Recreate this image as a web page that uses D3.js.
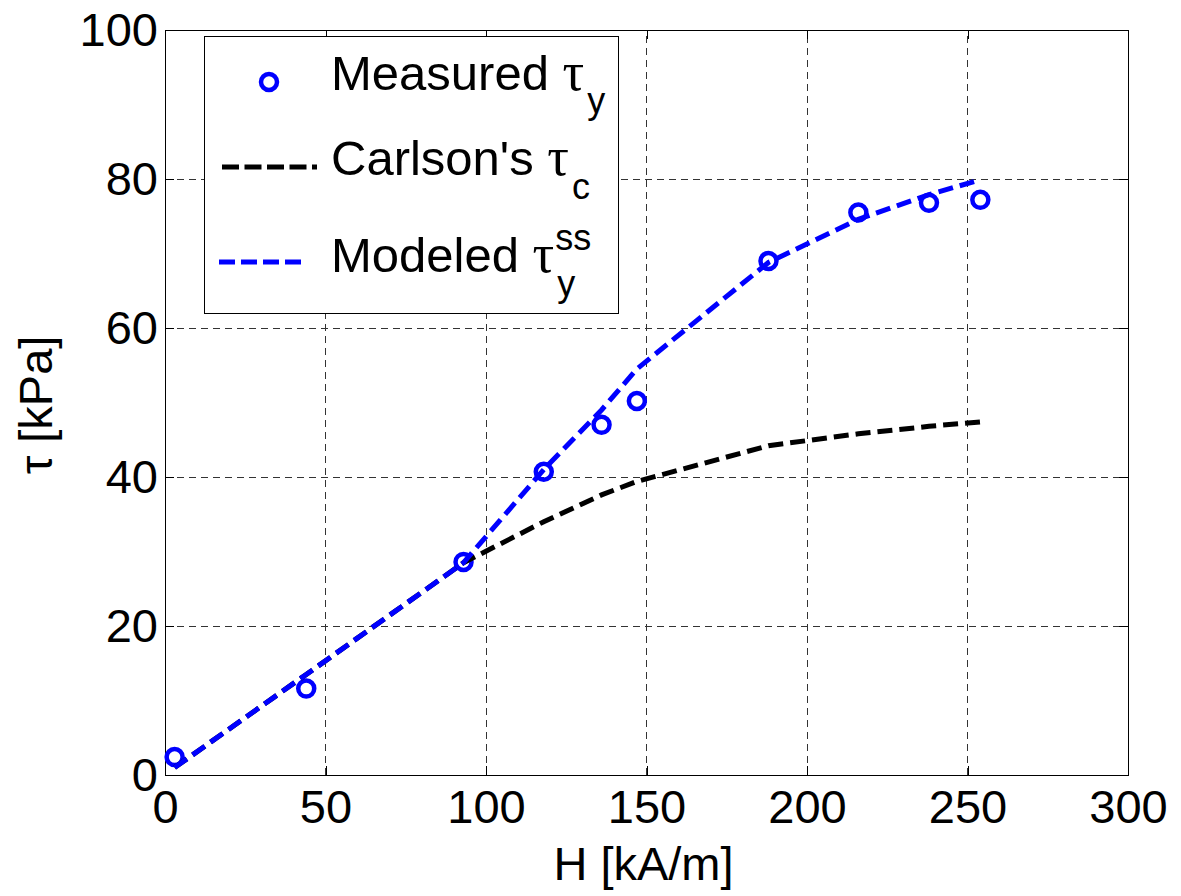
<!DOCTYPE html>
<html>
<head>
<meta charset="utf-8">
<script src="https://cdn.jsdelivr.net/npm/d3@7"></script>
<style>
  html, body { margin: 0; padding: 0; background: #fff; }
  svg { display: block; }
</style>
</head>
<body>
<svg id="chart" width="1181" height="896"></svg>
<script>
// ---- data ----
const H = [3, 44, 93, 118, 136, 147, 188, 216, 238, 254];
const measured = [2.4, 11.6, 28.6, 40.7, 47.0, 50.2, 69.0, 75.5, 76.8, 77.2];
const carlson = [1.0, 13.5, 28.5, 34.0, 37.6, 39.4, 44.2, 45.8, 46.8, 47.4];
const modeled = [1.0, 13.5, 28.5, 41.0, 49.0, 54.5, 68.8, 74.6, 77.9, 79.9];
const xTicks = [0, 50, 100, 150, 200, 250, 300];
const yTicks = [0, 20, 40, 60, 80, 100];
const legendLabels = ["Measured", "Carlson's", "Modeled"];

// ---- layout ----
const svg = d3.select("#chart");
const L = 165, R = 1128, T = 30, B = 775;
const x = d3.scaleLinear().domain([0, 300]).range([L, R]);
const y = d3.scaleLinear().domain([0, 100]).range([B, T]);
const FONT = "'Liberation Sans', Arial, Helvetica, sans-serif";
const TAU = "'Liberation Serif', 'Times New Roman', serif";
const FS = 47;

// grid
const grid = svg.append("g").attr("stroke", "#333").attr("stroke-width", 1)
  .attr("stroke-dasharray", "7,5").attr("shape-rendering", "crispEdges");
grid.selectAll("line.gx").data(xTicks.filter(d => d > 0 && d < 300)).enter().append("line")
  .attr("x1", d => x(d)).attr("x2", d => x(d)).attr("y1", B).attr("y2", T);
grid.selectAll("line.gy").data(yTicks.filter(d => d > 0 && d < 100)).enter().append("line")
  .attr("y1", d => y(d)).attr("y2", d => y(d)).attr("x1", L).attr("x2", R);

// axes (ticks inside, labels)
const tickLen = 9;
const xAxisB = d3.axisBottom(x).tickValues(xTicks).tickSizeInner(-tickLen).tickSizeOuter(0).tickPadding(15);
const xAxisT = d3.axisTop(x).tickValues(xTicks).tickSizeInner(-tickLen).tickSizeOuter(0).tickFormat("");
const yAxisL = d3.axisLeft(y).tickValues(yTicks).tickSizeInner(-tickLen).tickSizeOuter(0).tickPadding(7);
const yAxisR = d3.axisRight(y).tickValues(yTicks).tickSizeInner(-tickLen).tickSizeOuter(0).tickFormat("");

function styleAxis(g) {
  g.select(".domain").remove();
  g.selectAll("line").attr("stroke", "#000").attr("stroke-width", 1).attr("shape-rendering", "crispEdges");
  g.selectAll("text").attr("font-family", FONT).attr("font-size", FS).attr("fill", "#000");
}
svg.append("g").attr("transform", `translate(0,${B})`).call(xAxisB).call(styleAxis)
  .selectAll("text").attr("dy", "0.71em");
svg.append("g").attr("transform", `translate(0,${T})`).call(xAxisT).call(styleAxis);
svg.append("g").attr("transform", `translate(${L},0)`).call(yAxisL).call(styleAxis)
  .selectAll("text").attr("dy", "0.34em");
svg.append("g").attr("transform", `translate(${R},0)`).call(yAxisR).call(styleAxis);

// box
svg.append("rect").attr("x", L).attr("y", T).attr("width", R - L).attr("height", B - T)
  .attr("fill", "none").attr("stroke", "#000").attr("stroke-width", 1).attr("shape-rendering", "crispEdges");

// data: markers
const pts = H.map((h, i) => ({h, v: measured[i]}));
svg.append("g").selectAll("circle").data(pts).enter().append("circle")
  .attr("cx", d => x(d.h)).attr("cy", d => y(d.v)).attr("r", 8)
  .attr("fill", "none").attr("stroke", "#0000ff").attr("stroke-width", 4.5);

// lines
const line = d3.line().x(d => x(d[0])).y(d => y(d[1]));
svg.append("path").datum(H.map((h, i) => [h, carlson[i]])).attr("d", line)
  .attr("fill", "none").attr("stroke", "#000").attr("stroke-width", 5).attr("stroke-dasharray", "15,7");
svg.append("path").datum(H.map((h, i) => [h, modeled[i]])).attr("d", line)
  .attr("fill", "none").attr("stroke", "#0000ff").attr("stroke-width", 5).attr("stroke-dasharray", "15,7");

// axis labels
svg.append("text").attr("x", (L + R) / 2 - 3).attr("y", 880).attr("text-anchor", "middle")
  .attr("font-family", FONT).attr("font-size", FS).text("H [kA/m]");
svg.append("text").attr("transform", "translate(52,405) rotate(-90)").attr("text-anchor", "middle")
  .attr("font-family", FONT).attr("font-size", FS).text("τ [kPa]");

// legend
const lg = svg.append("g");
lg.append("rect").attr("x", 204).attr("y", 36).attr("width", 414).attr("height", 277)
  .attr("fill", "#fff").attr("stroke", "#000").attr("stroke-width", 1).attr("shape-rendering", "crispEdges");
lg.append("circle").attr("cx", 269).attr("cy", 82).attr("r", 8)
  .attr("fill", "none").attr("stroke", "#0000ff").attr("stroke-width", 4.5);
lg.append("line").attr("x1", 222).attr("x2", 317).attr("y1", 167).attr("y2", 167)
  .attr("stroke", "#000").attr("stroke-width", 5).attr("stroke-dasharray", "17,5.5");
lg.append("line").attr("x1", 219).attr("x2", 301).attr("y1", 262).attr("y2", 262)
  .attr("stroke", "#0000ff").attr("stroke-width", 5).attr("stroke-dasharray", "16,6");

const SUBFS = 36;
function legendText(yb, main, sub, subY, sup, supY) {
  const t = lg.append("text").attr("x", 331).attr("y", yb)
    .attr("font-family", FONT).attr("font-size", 49);
  t.append("tspan").text(main + " ");
  t.append("tspan").attr("font-family", TAU).attr("font-size", 54).text("τ");
  const end = 331 + t.node().getComputedTextLength();
  if (sup) {
    lg.append("text").attr("x", end + 1).attr("y", supY)
      .attr("font-family", FONT).attr("font-size", SUBFS).text(sup);
  }
  if (sub) {
    lg.append("text").attr("x", end + 3).attr("y", subY)
      .attr("font-family", FONT).attr("font-size", SUBFS).text(sub);
  }
}
legendText(90, legendLabels[0], "y", 113, null, 0);
legendText(175, legendLabels[1], "c", 199, null, 0);
legendText(272, legendLabels[2], "y", 296, "ss", 250);
</script>
</body>
</html>
